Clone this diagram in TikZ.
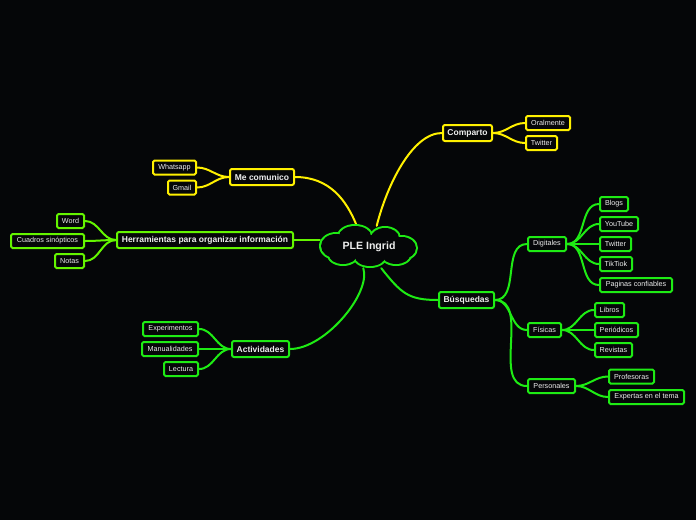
\documentclass[tikz,border=0pt]{standalone}
\usepackage{fontspec}
\setmainfont{Liberation Sans}
\definecolor{bgc}{RGB}{5,6,8}
\definecolor{yel}{RGB}{255,240,0}
\definecolor{grn}{RGB}{30,235,20}
\definecolor{lim}{RGB}{100,245,0}
\definecolor{txt}{RGB}{238,238,238}
\pgfdeclarelayer{bglayer}
\pgfdeclarelayer{lines}
\pgfsetlayers{bglayer,lines,main}
\tikzset{
  main/.style={draw, line width=2pt, rounded corners=2pt, fill=bgc, text=txt,
    font=\fontsize{8.5}{9}\selectfont\bfseries, minimum height=16pt, inner xsep=1pt, inner ysep=0pt},
  sub/.style={draw, line width=2pt, rounded corners=1.5pt, fill=bgc, text=txt,
    font=\fontsize{7.2}{8}\selectfont, minimum height=14pt, inner xsep=1pt, inner ysep=0pt},
  conn/.style={line width=2pt, line cap=round},
}
\begin{document}
\begin{tikzpicture}[x=1pt,y=-1pt]
\begin{pgfonlayer}{bglayer}
\fill[bgc] (0,0) rectangle (696,520);
\end{pgfonlayer}
\useasboundingbox (0,0) rectangle (696,520);

% root cloud: outline of a union of elliptic puffs
\def\puffs{336/246/16/13, 355/236/17/11, 385/238/15/11, 402/248/15/12, 396/255/15/10, 370/257/16/10, 343/255/15/10}
\foreach \cx/\cy/\rx/\ry in \puffs
  \fill[grn] (\cx,\cy) ellipse ({\rx+1} and {\ry+1});
\foreach \cx/\cy/\rx/\ry in \puffs
  \fill[bgc] (\cx,\cy) ellipse ({\rx-1} and {\ry-1});
\fill[bgc] (369,247) ellipse (40 and 12);
\node[minimum width=98pt, minimum height=42pt, inner sep=0pt, text=txt,
  font=\fontsize{10.6}{12}\selectfont\bfseries] (root) at (369,247) {PLE Ingrid};

% Comparto
\node[main, draw=yel, minimum width=49pt] (comp) at (467.5,133) {Comparto};
\node[sub, draw=yel, minimum width=44pt] (oral) at (548,123) {Oralmente};
\node[sub, draw=yel, minimum width=31pt] (tw1) at (541.5,143) {Twitter};

% Me comunico
\node[main, draw=yel, minimum width=64pt] (mec) at (262,177) {Me comunico};
\node[sub, draw=yel, minimum width=43pt] (wa) at (174.5,167.5) {Whatsapp};
\node[sub, draw=yel, minimum width=28pt] (gm) at (182,187.5) {Gmail};

% Herramientas
\node[main, draw=lim, minimum width=176pt] (her) at (205,240) {Herramientas para organizar información};
\node[sub, draw=lim, minimum width=27pt] (word) at (70.5,221) {Word};
\node[sub, draw=lim, minimum width=73pt] (cuad) at (47.5,241) {Cuadros sinópticos};
\node[sub, draw=lim, minimum width=29pt] (notas) at (69.5,261) {Notas};

% Actividades
\node[main, draw=grn, minimum width=57pt] (act) at (260.5,349) {Actividades};
\node[sub, draw=grn, minimum width=55pt] (exp) at (170.5,329) {Experimentos};
\node[sub, draw=grn, minimum width=56pt] (man) at (170,349) {Manualidades};
\node[sub, draw=grn, minimum width=34pt] (lec) at (181,369) {Lectura};

% Busquedas
\node[main, draw=grn, minimum width=55pt] (bus) at (466.5,300) {Búsquedas};
\node[sub, draw=grn, minimum width=38pt] (dig) at (547,244) {Digitales};
\node[sub, draw=grn, minimum width=28pt] (blogs) at (614,204) {Blogs};
\node[sub, draw=grn, minimum width=38pt] (yt) at (619,224) {YouTube};
\node[sub, draw=grn, minimum width=31pt] (tw2) at (615.5,244) {Twitter};
\node[sub, draw=grn, minimum width=32pt] (tik) at (616,264) {TikTiok};
\node[sub, draw=grn, minimum width=72pt] (pag) at (636,285) {Paginas confiables};
\node[sub, draw=grn, minimum width=33pt] (fis) at (544.5,330) {Físicas};
\node[sub, draw=grn, minimum width=29pt] (lib) at (609.5,310) {Libros};
\node[sub, draw=grn, minimum width=43pt] (per) at (616.5,330) {Periódicos};
\node[sub, draw=grn, minimum width=37pt] (rev) at (613.5,350) {Revistas};
\node[sub, draw=grn, minimum width=47pt] (pers) at (551.5,386) {Personales};
\node[sub, draw=grn, minimum width=45pt] (prof) at (631.5,376.5) {Profesoras};
\node[sub, draw=grn, minimum width=75pt] (expt) at (646.5,397) {Expertas en el tema};

\begin{pgfonlayer}{lines}
% root connectors (ends hidden under the cloud fill)
\draw[conn, yel] (root.70) .. controls +(10,-40) and +(-30,0) .. (comp.west);
\draw[conn, yel] (mec.east) .. controls +(35,0) and +(-10,-25) .. (root.120);
\draw[conn, lim] (her.east) -- (root.west |- her.east);
\draw[conn, grn] (act.east) .. controls +(35,0) and +(8,25) .. (root.-105);
\draw[conn, grn] (root.-60) .. controls +(20,25) and +(-30,0) .. (bus.west);
% children
\foreach \c in {oral,tw1} \draw[conn, yel] (comp.east) to[out=0,in=180] (\c.west);
\foreach \c in {wa,gm} \draw[conn, yel] (mec.west) to[out=180,in=0] (\c.east);
\foreach \c in {word,cuad,notas} \draw[conn, lim] (her.west) to[out=180,in=0] (\c.east);
\foreach \c in {exp,man,lec} \draw[conn, grn] (act.west) to[out=180,in=0] (\c.east);
\foreach \c in {dig,fis,pers} \draw[conn, grn] (bus.east) to[out=0,in=180] (\c.west);
\foreach \c in {blogs,yt,tw2,tik,pag} \draw[conn, grn] (dig.east) to[out=0,in=180] (\c.west);
\foreach \c in {lib,per,rev} \draw[conn, grn] (fis.east) to[out=0,in=180] (\c.west);
\foreach \c in {prof,expt} \draw[conn, grn] (pers.east) to[out=0,in=180] (\c.west);
\end{pgfonlayer}
\end{tikzpicture}
\end{document}
